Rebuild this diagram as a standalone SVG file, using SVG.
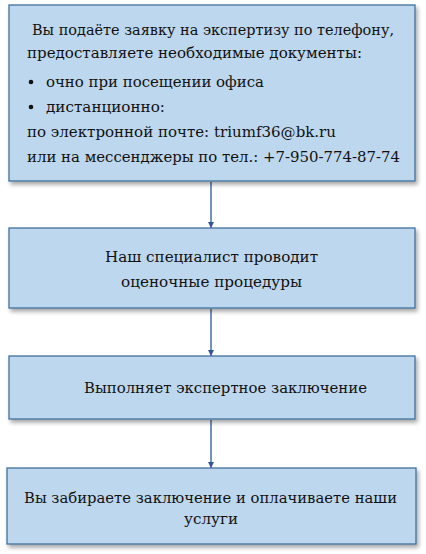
<svg xmlns="http://www.w3.org/2000/svg" width="426" height="554" viewBox="0 0 426 554">
<defs>
<filter id="sh" x="-5%" y="-5%" width="115%" height="125%">
<feGaussianBlur in="SourceAlpha" stdDeviation="2"/>
<feOffset dx="2" dy="3"/>
<feComponentTransfer><feFuncA type="linear" slope="0.35"/></feComponentTransfer>
<feMerge><feMergeNode/><feMergeNode in="SourceGraphic"/></feMerge>
</filter>
<marker id="ah" viewBox="0 0 10 10" refX="10" refY="5" markerWidth="6" markerHeight="6" markerUnits="userSpaceOnUse" orient="auto">
<path d="M0,0 L10,5 L0,10 z" fill="#2F5597"/>
</marker>
<style>
.box{fill:#BDD7EE;stroke:#41719C;stroke-width:1.3;filter:url(#sh)}
.t{font-family:'DejaVu Serif Condensed','DejaVu Serif',serif;font-size:15px;fill:#111}
.con{stroke:#2F5597;stroke-width:1.3;fill:none;marker-end:url(#ah)}
</style>
</defs>
<g id="connectors">
<line class="con" x1="211" y1="182" x2="211" y2="228"/>
<line class="con" x1="211" y1="309" x2="211" y2="356"/>
<line class="con" x1="211" y1="420" x2="211" y2="468"/>
</g>
<g id="node1">
<rect class="box" x="9" y="5" width="406" height="176"/>
<text class="t" x="32" y="35" textLength="362" lengthAdjust="spacingAndGlyphs">Вы подаёте заявку на экспертизу по телефону,</text>
<text class="t" x="27" y="58" textLength="335" lengthAdjust="spacingAndGlyphs">предоставляете необходимые документы:</text>
<circle cx="31" cy="82" r="2.3" fill="#111"/>
<text class="t" x="46" y="87" textLength="218" lengthAdjust="spacingAndGlyphs">очно при посещении офиса</text>
<circle cx="31" cy="107" r="2.3" fill="#111"/>
<text class="t" x="46" y="112" textLength="119" lengthAdjust="spacingAndGlyphs">дистанционно:</text>
<text class="t" x="27" y="137" textLength="309" lengthAdjust="spacingAndGlyphs">по электронной почте: triumf36@bk.ru</text>
<text class="t" x="27" y="162" textLength="373" lengthAdjust="spacingAndGlyphs">или на мессенджеры по тел.: +7-950-774-87-74</text>
</g>
<g id="node2">
<rect class="box" x="9" y="228" width="406" height="80"/>
<text class="t" x="105" y="262" textLength="213" lengthAdjust="spacingAndGlyphs">Наш специалист проводит</text>
<text class="t" x="121" y="287" textLength="181" lengthAdjust="spacingAndGlyphs">оценочные процедуры</text>
</g>
<g id="node3">
<rect class="box" x="9" y="356" width="406" height="63"/>
<text class="t" x="84" y="393" textLength="283" lengthAdjust="spacingAndGlyphs">Выполняет экспертное заключение</text>
</g>
<g id="node4">
<rect class="box" x="7" y="468" width="409" height="76"/>
<text class="t" x="24" y="503" textLength="373" lengthAdjust="spacingAndGlyphs">Вы забираете заключение и оплачиваете наши</text>
<text class="t" x="184" y="524" textLength="54" lengthAdjust="spacingAndGlyphs">услуги</text>
</g>
</svg>
